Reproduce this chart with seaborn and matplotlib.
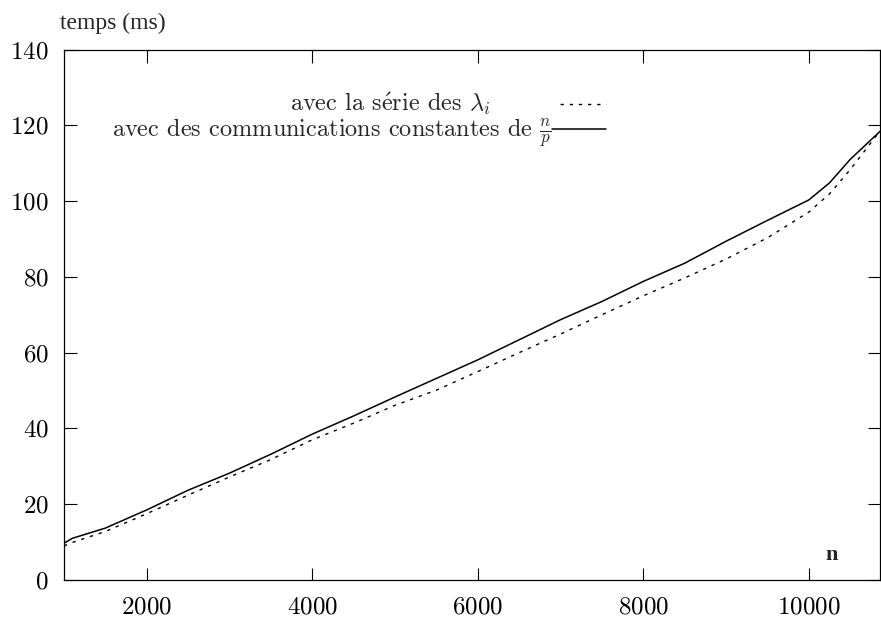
"""Temps d'execution en fonction de n : serie des lambda_i vs communications constantes."""

import numpy as np
import pandas as pd
import seaborn as sns
import matplotlib.pyplot as plt

###################################################################################################
###################################################################################################

# valeurs
n_vals = [1000, 1100, 1500, 2000, 2500, 3000, 3500, 4000, 4500, 5000, 5500, 6000,
          6500, 7000, 7500, 8000, 8500, 9000, 9500, 10000, 10250, 10500, 10860]
t_lambda = [9.0, 9.9, 12.8, 17.5, 22.4, 27.2, 31.8, 37.0, 41.4, 46.1, 50.1, 55.0,
            60.0, 64.9, 70.0, 75.0, 79.7, 84.7, 90.3, 97.1, 101.9, 108.3, 118.5]
t_const = [9.7, 11.0, 13.7, 18.5, 23.7, 28.2, 33.2, 38.5, 43.3, 48.3, 53.2, 58.1,
           63.4, 68.7, 73.5, 78.8, 83.6, 89.4, 94.9, 100.3, 104.8, 111.0, 118.4]

x_ticks = [2000, 4000, 6000, 8000, 10000]
y_ticks = [0, 20, 40, 60, 80, 100, 120, 140]

label_lambda = r"avec la s$\acute{\mathrm{e}}$rie des $\lambda_i$"
label_const = r"avec des communications constantes de $\frac{n}{p}$"

###################################################################################################
###################################################################################################

sns.set_theme(style="ticks")
plt.rcParams['font.family'] = ['cmr10', 'DejaVu Serif']
plt.rcParams['mathtext.fontset'] = 'cm'
plt.rcParams['axes.formatter.use_mathtext'] = True
plt.rcParams['axes.unicode_minus'] = False

df = pd.DataFrame({'n': n_vals, 'lambda': t_lambda, 'const': t_const})

fig = plt.figure(figsize=[8.81, 6.2], dpi=100)
ax = fig.add_axes([64 / 881, 40 / 620, 816 / 881, 530.5 / 620])

dots = (0, (2.4, 4.2))
sns.lineplot(data=df, x='n', y='lambda', color='black', linewidth=1.0,
             linestyle=dots, ax=ax)
sns.lineplot(data=df, x='n', y='const', color='black', linewidth=1.1, ax=ax)

ax.set_xlim(1000, 10860)
ax.set_ylim(0, 140)
ax.set_xticks(x_ticks)
ax.set_yticks(y_ticks)
ax.set_xlabel("")
ax.set_ylabel("")

for side in ['top', 'right', 'bottom', 'left']:
    ax.spines[side].set_visible(True)
    ax.spines[side].set_linewidth(0.9)
    ax.spines[side].set_color('black')

ax.tick_params(direction='in', length=9, width=0.8, colors='black',
               top=True, right=True, labelsize=18)
ax.tick_params(axis='x', pad=12)
ax.tick_params(axis='y', pad=11)

# legende facon gnuplot : texte aligne a droite, echantillon a droite
ax.text(6148, 123.9, label_lambda, ha='right', va='baseline', fontsize=17.5)
ax.text(6897, 117.0, label_const, ha='right', va='baseline', fontsize=17.5)
ax.plot([6990, 7550], [125.6, 125.6], color='black', linewidth=1.0,
        linestyle=dots)
ax.plot([6900, 7550], [118.9, 118.9], color='black', linewidth=1.1)

fig.text(113 / 881, 1 - 23 / 620, "temps (ms)", ha='center', va='center',
         fontsize=17, family='Liberation Serif')
ax.text(10270, 6.5, "n", ha='center', va='center', fontsize=16,
        family='Liberation Serif', weight='bold')

plt.savefig("out.png", dpi=100)
